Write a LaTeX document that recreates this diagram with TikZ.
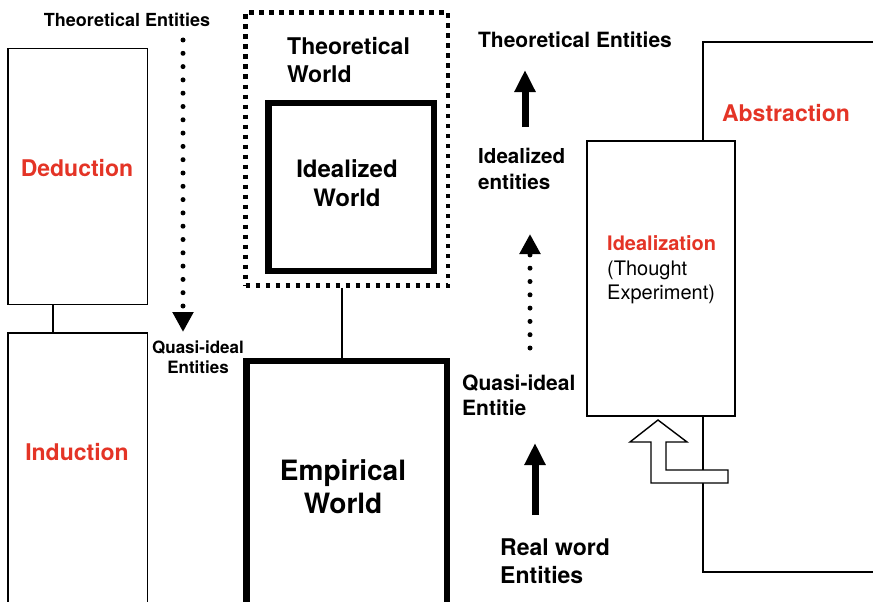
\documentclass[tikz,border=0pt]{standalone}
\usepackage{fontspec}
\setmainfont{TeX Gyre Heros}
\usetikzlibrary{arrows.meta}
\definecolor{labelred}{RGB}{228,52,38}
\newcommand{\lblsize}[2]{\fontsize{#1}{#2}\selectfont}

\begin{document}
\begin{tikzpicture}[x=1pt,y=-1pt,
	thinbox/.style={draw,line width=1.4pt,inner sep=0pt},
	thickbox/.style={draw,line width=6.5pt,inner sep=0pt},
	lbl/.style={inner sep=0pt,align=center},
	redlbl/.style={lbl,text=labelred},
	dotarrow/.style={line width=5pt,line cap=round,dash pattern=on 0pt off 13.3pt,-{Triangle[width=20pt,length=20pt]}},
	fatarrow/.style={line width=7pt,-{Triangle[width=20pt,length=22pt]}}]
	\useasboundingbox (0,0) rectangle (873,602);
	\clip (0,0) rectangle (873,602);

	% left column
	\node[thinbox,minimum width=139.5pt,minimum height=256pt] (ded) at (77.75,176.5) {};
	\node[thinbox,minimum width=139.5pt,minimum height=317pt] (ind) at (77.75,491.5) {};
	\draw[line width=1.4pt] ([xshift=-24.75pt]ded.south) -- ([xshift=-24.75pt]ind.north);
	\node[redlbl,font={\lblsize{23}{28}\bfseries}] (dedlbl) at (77,168) {Deduction};
	\node[redlbl,font={\lblsize{23}{28}\bfseries}] (indlbl) at (77,452) {Induction};

	\node[lbl,font={\lblsize{18}{22}\bfseries}] (thent) at (127,20) {Theoretical Entities};
	\node[lbl,font={\lblsize{17}{20}\bfseries}] (qient) at (198,357) {Quasi-ideal\\Entities};
	\coordinate (downtop) at (183,40);
	\coordinate (downend) at (183,332);
	\draw[dotarrow] (downtop) -- (downend);

	% worlds
	\node[draw,line width=4.5pt,dash pattern=on 4.5pt off 5.5pt,inner sep=0pt,minimum width=202.5pt,minimum height=273pt] (theo) at (346.75,149) {};
	\node[lbl,anchor=west,align=left,font={\lblsize{23}{28}\bfseries}] (theolbl) at (287,60) {Theoretical\\World};
	\node[thickbox,minimum width=165.5pt,minimum height=168pt] (ideal) at (351.25,187) {};
	\node[lbl,font={\lblsize{24}{29}\bfseries}] (ideallbl) at (347,183) {Idealized\\World};
	\node[thickbox,minimum width=200.5pt,minimum height=299pt] (emp) at (346.75,510.5) {};
	\node[lbl,font={\lblsize{28}{33}\bfseries}] (emplbl) at (343,487) {Empirical\\World};
	\draw[line width=1.4pt] ([xshift=-4.75pt]theo.south) -- ([xshift=-4.75pt]emp.north);

	% entities on the right
	\node[lbl,font={\lblsize{21}{26}\bfseries}] (thent2) at (575,40) {Theoretical Entities};
	\node[lbl,anchor=west,align=left,font={\lblsize{20.6}{26}\bfseries}] (ident) at (478,169) {Idealized\\entities};
	\node[lbl,anchor=west,align=left,font={\lblsize{21}{25}\bfseries}] (qient2) at (462,395.5) {Quasi-ideal\\Entitie};
	\node[lbl,anchor=west,align=left,font={\lblsize{23}{28}\bfseries}] (rwent) at (500,561) {Real word\\Entities};
	\coordinate (uptop) at (530,234);
	\coordinate (upend) at (530,348);
	\coordinate (fattop) at (525,70);
	\coordinate (fatend) at (525,127);
	\coordinate (lowtop) at (535,443);
	\coordinate (lowend) at (535,515);
	\draw[fatarrow] (fatend) -- (fattop);
	\draw[dotarrow] (upend) -- (uptop);
	\draw[fatarrow] (lowend) -- (lowtop);

	% abstraction / idealization
	\node[thinbox,minimum width=297pt,minimum height=530pt] (abs) at (851.5,307) {};
	\node[redlbl,font={\lblsize{23}{28}\bfseries}] (abslbl) at (786,113) {Abstraction};
	\node[thinbox,fill=white,minimum width=148pt,minimum height=275pt] (idz) at (661,278.5) {};
	\node[lbl,anchor=west,align=left,font={\lblsize{20}{24.5}}] (idzlbl) at (607,270) {{\bfseries\color{labelred}Idealization}\\(Thought\\Experiment)};
	\draw[line width=1.4pt,fill=white] (651,442) -- (630,442) -- (658,420) -- (687,442) -- (666,442)
		-- (666,470) -- (728,470) -- (728,483) -- (651,483) -- cycle;
\end{tikzpicture}
\end{document}
